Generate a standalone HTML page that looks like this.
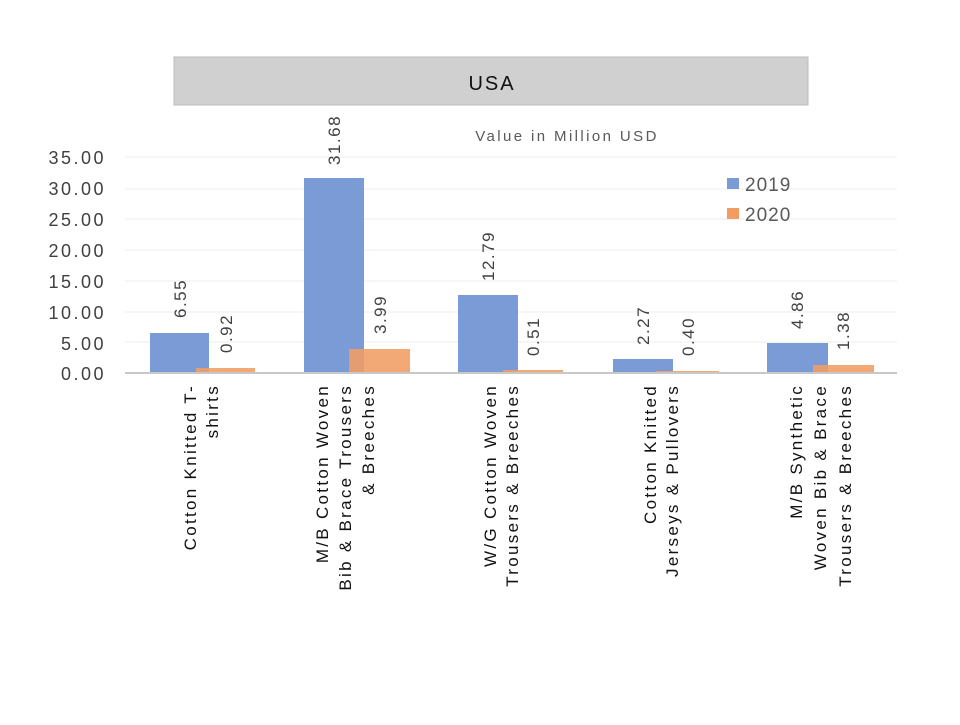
<!DOCTYPE html>
<html><head><style>body{margin:0;background:#fff}</style></head><body>
<svg width="960" height="720" xmlns="http://www.w3.org/2000/svg" font-family="Liberation Sans, sans-serif">
<rect width="960" height="720" fill="#fff"/>
<rect x="174" y="57" width="634" height="48" fill="#d0d0d0" stroke="#bdbdbd"/>
<text x="492" y="90" font-size="20" text-anchor="middle" fill="#111" letter-spacing="2">USA</text>
<text x="567" y="141" font-size="15" text-anchor="middle" fill="#595959" letter-spacing="2.4">Value in Million USD</text>
<g stroke="#ececec" stroke-width="1">
<line x1="125" x2="897" y1="157" y2="157"/><line x1="125" x2="897" y1="189" y2="189"/>
<line x1="125" x2="897" y1="219" y2="219"/><line x1="125" x2="897" y1="250" y2="250"/>
<line x1="125" x2="897" y1="281" y2="281"/><line x1="125" x2="897" y1="312" y2="312"/>
<line x1="125" x2="897" y1="342" y2="342"/>
</g>
<g font-size="18" fill="#404040" text-anchor="end" letter-spacing="2.5">
<text x="106" y="164">35.00</text><text x="106" y="195">30.00</text><text x="106" y="226">25.00</text>
<text x="106" y="257">20.00</text><text x="106" y="288">15.00</text><text x="106" y="319">10.00</text>
<text x="106" y="350">5.00</text><text x="106" y="380">0.00</text>
</g>
<g fill="#7b9bd6">
<rect x="150" y="333" width="59" height="40"/>
<rect x="304" y="178" width="60" height="195"/>
<rect x="458" y="295" width="60" height="78"/>
<rect x="613" y="359" width="60" height="14"/>
<rect x="767" y="343" width="61" height="30"/>
</g>
<g fill="#f19d62" fill-opacity="0.88">
<rect x="196" y="368" width="59" height="5"/>
<rect x="349" y="349" width="61" height="24"/>
<rect x="503" y="370" width="60" height="3"/>
<rect x="656" y="371" width="63" height="2"/>
<rect x="813" y="365" width="61" height="8"/>
</g>
<line x1="125" x2="897" y1="373" y2="373" stroke="#c8c8c8" stroke-width="2"/>
<g font-size="17" fill="#404040" letter-spacing="1.5">
<text transform="translate(186,318) rotate(-90)">6.55</text>
<text transform="translate(232,353) rotate(-90)">0.92</text>
<text transform="translate(340,165) rotate(-90)">31.68</text>
<text transform="translate(386,334) rotate(-90)">3.99</text>
<text transform="translate(494,281) rotate(-90)">12.79</text>
<text transform="translate(539,356) rotate(-90)">0.51</text>
<text transform="translate(649,345) rotate(-90)">2.27</text>
<text transform="translate(694,356) rotate(-90)">0.40</text>
<text transform="translate(803,329) rotate(-90)">4.86</text>
<text transform="translate(849,350) rotate(-90)">1.38</text>
</g>
<rect x="727" y="178" width="12" height="11" fill="#7b9bd6"/>
<rect x="727" y="208" width="12" height="11" fill="#f19d62"/>
<g font-size="19" fill="#595959" letter-spacing="1"><text x="745" y="191">2019</text><text x="745" y="221">2020</text></g>
<g font-size="17" fill="#111" text-anchor="end" letter-spacing="2.3">
<text transform="translate(196,384) rotate(-90)">Cotton Knitted  T-</text>
<text transform="translate(218,384) rotate(-90)">shirts</text>
<text transform="translate(328,384) rotate(-90)">M/B Cotton Woven</text>
<text transform="translate(351,384) rotate(-90)">Bib &amp; Brace Trousers</text>
<text transform="translate(374,384) rotate(-90)">&amp; Breeches</text>
<text transform="translate(496,384) rotate(-90)">W/G Cotton Woven</text>
<text transform="translate(518,384) rotate(-90)">Trousers &amp; Breeches</text>
<text transform="translate(656,384) rotate(-90)">Cotton Knitted</text>
<text transform="translate(678,384) rotate(-90)">Jerseys &amp; Pullovers</text>
<text transform="translate(802,384) rotate(-90)">M/B Synthetic</text>
<text transform="translate(826,384) rotate(-90)">Woven Bib &amp; Brace</text>
<text transform="translate(851,384) rotate(-90)">Trousers &amp; Breeches</text>
</g>
</svg>
</body></html>
